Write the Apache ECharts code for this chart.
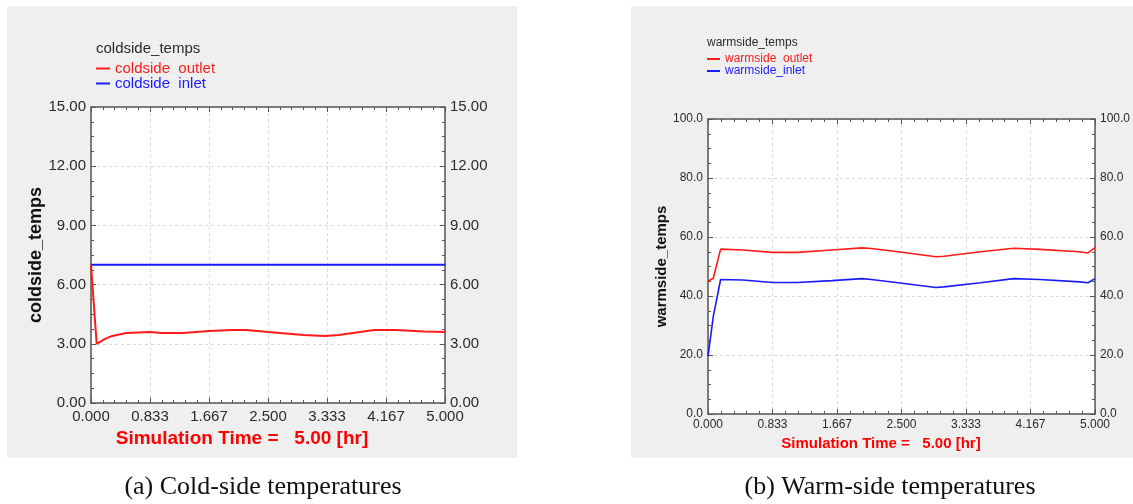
<!DOCTYPE html>
<html>
<head>
<meta charset="utf-8">
<script src="https://cdn.jsdelivr.net/npm/echarts@6/dist/echarts.min.js"></script>
<style>
  html, body { margin: 0; padding: 0; background: #ffffff; }
  #chart { width: 1133px; height: 504px; }
</style>
</head>
<body>
<div id="chart"></div>
<script>
// ---- Data ----
const coldTime   = [0, 0.08, 0.2, 0.3, 0.5, 0.833, 1.0, 1.3, 1.667, 2.0, 2.2, 2.5, 3.0, 3.3, 3.5, 4.0, 4.3, 4.7, 5.0];
const coldOutlet = [7.0, 3.0, 3.25, 3.4, 3.55, 3.6, 3.55, 3.55, 3.65, 3.7, 3.7, 3.6, 3.45, 3.4, 3.45, 3.7, 3.7, 3.62, 3.6];
const coldInlet  = [7.0, 7.0, 7.0, 7.0, 7.0, 7.0, 7.0, 7.0, 7.0, 7.0, 7.0, 7.0, 7.0, 7.0, 7.0, 7.0, 7.0, 7.0, 7.0];

const warmTime   = [0, 0.068, 0.163, 0.45, 0.835, 1.155, 1.6, 1.99, 2.11, 2.455, 2.945, 3.05, 3.52, 3.95, 4.29, 4.8, 4.91, 5.0];
const warmOutlet = [45.0, 46.0, 55.9, 55.6, 54.8, 54.8, 55.6, 56.3, 56.1, 55.0, 53.3, 53.5, 55.0, 56.2, 55.8, 55.0, 54.6, 56.4];
const warmInlet  = [19.5, 33.0, 45.6, 45.4, 44.6, 44.6, 45.2, 45.9, 45.6, 44.5, 42.9, 43.1, 44.5, 45.9, 45.6, 44.8, 44.5, 45.9];

const coldNames = ['coldside  outlet', 'coldside  inlet'];
const warmNames = ['warmside  outlet', 'warmside_inlet'];
const coldTitle = 'coldside_temps';
const warmTitle = 'warmside_temps';
const xAxisTitle = 'Simulation Time =   5.00 [hr]';
const captions = ['(a) Cold-side temperatures', '(b) Warm-side temperatures'];

const timeMin = 0, timeMax = 5, timeStep = 5 / 6;
const coldMin = 0, coldMax = 15, coldStep = 3;
const warmMin = 0, warmMax = 100, warmStep = 20;

// ---- Styling ----
const FONT = 'Liberation Sans, Arial, sans-serif';
const RED = '#ff1a1a';
const BLUE = '#1a1aff';
const AXIS = '#555555';
const TXT = '#2a2a2a';

const pair = (xs, ys) => xs.map((x, i) => [x, ys[i]]);

function xAxes(gridIndex, fs, margin, nameGap, namePadRight, nameSize) {
  const common = {
    type: 'value', gridIndex, min: timeMin, max: timeMax, interval: timeStep,
    axisLine: { show: true, onZero: false, lineStyle: { color: AXIS, width: 1.5 } },
    axisTick: { show: true, inside: true, length: 5, lineStyle: { color: AXIS } },
    minorTick: { show: true, splitNumber: 5, length: 3, lineStyle: { color: AXIS } },
  };
  return [
    Object.assign({}, common, {
      position: 'bottom',
      axisLabel: { show: true, fontSize: fs, color: TXT, fontFamily: FONT, margin,
        formatter: v => (Math.round(v * 1000) / 1000).toFixed(3) },
      splitLine: { show: true, lineStyle: { color: '#d9d9d9', type: [3, 3], width: 1 } },
      name: xAxisTitle, nameLocation: 'middle', nameGap,
      nameTextStyle: { color: '#ff0000', fontWeight: 'bold', fontSize: nameSize, fontFamily: FONT,
        padding: [0, namePadRight, 0, 0] }
    }),
    Object.assign({}, common, {
      position: 'top', axisLabel: { show: false }, splitLine: { show: false }
    })
  ];
}

function yAxes(gridIndex, min, max, step, fs, digits, nameText, nameGap, nameSize) {
  const common = {
    type: 'value', gridIndex, min, max, interval: step,
    axisLine: { show: true, onZero: false, lineStyle: { color: AXIS, width: 1.5 } },
    axisTick: { show: true, inside: true, length: 5, lineStyle: { color: AXIS } },
    minorTick: { show: true, splitNumber: 4, length: 3, lineStyle: { color: AXIS } },
    axisLabel: { show: true, fontSize: fs, color: TXT, fontFamily: FONT, margin: 5,
      formatter: v => v.toFixed(digits) }
  };
  return [
    Object.assign({}, common, {
      position: 'left',
      splitLine: { show: true, lineStyle: { color: '#d9d9d9', type: [3, 3], width: 1 } },
      name: nameText, nameLocation: 'middle', nameGap,
      nameTextStyle: { color: '#111', fontWeight: 'bold', fontSize: nameSize, fontFamily: FONT }
    }),
    Object.assign({}, common, { position: 'right', splitLine: { show: false } })
  ];
}

const chart = echarts.init(document.getElementById('chart'), null, { renderer: 'canvas' });

const option = {
  animation: false,
  backgroundColor: '#ffffff',
  graphic: {
    elements: [
      { type: 'rect', z: -100, silent: true, shape: { x: 7, y: 6, width: 510, height: 452 }, style: { fill: '#efefef' } },
      { type: 'rect', z: -100, silent: true, shape: { x: 631, y: 6, width: 502, height: 452 }, style: { fill: '#efefef' } }
    ]
  },
  title: [
    { text: coldTitle, left: 96, top: 41, padding: 0,
      textStyle: { fontSize: 15, fontWeight: 'normal', color: TXT, fontFamily: FONT } },
    { text: warmTitle, left: 707, top: 37, padding: 0,
      textStyle: { fontSize: 12, fontWeight: 'normal', color: TXT, fontFamily: FONT } },
    { text: captions[0], left: 263, top: 474, textAlign: 'center', padding: 0,
      textStyle: { fontSize: 26, fontWeight: 'normal', color: '#111', fontFamily: 'Liberation Serif, Times New Roman, serif' } },
    { text: captions[1], left: 890, top: 474, textAlign: 'center', padding: 0,
      textStyle: { fontSize: 26, fontWeight: 'normal', color: '#111', fontFamily: 'Liberation Serif, Times New Roman, serif' } }
  ],
  legend: [
    { orient: 'vertical', left: 96, top: 61, padding: 0, itemGap: 0, itemWidth: 14, itemHeight: 2, icon: 'rect',
      textStyle: { fontSize: 15, lineHeight: 14, fontFamily: FONT },
      data: [ { name: coldNames[0], textStyle: { color: RED } }, { name: coldNames[1], textStyle: { color: BLUE } } ] },
    { orient: 'vertical', left: 707, top: 53, padding: 0, itemGap: 0, itemWidth: 13, itemHeight: 2, icon: 'rect',
      textStyle: { fontSize: 12, lineHeight: 12, fontFamily: FONT },
      data: [ { name: warmNames[0], textStyle: { color: RED } }, { name: warmNames[1], textStyle: { color: BLUE } } ] }
  ],
  grid: [
    { left: 91, top: 107, width: 354, height: 296, show: true, backgroundColor: '#ffffff', borderWidth: 0 },
    { left: 708, top: 119, width: 391, height: 295, show: true, backgroundColor: '#ffffff', borderWidth: 0 }
  ],
  xAxis: [].concat(xAxes(0, 15, 6, 26, 52, 19), xAxes(1, 12, 5, 21, 41, 15)),
  yAxis: [].concat(
    yAxes(0, coldMin, coldMax, coldStep, 15, 2, coldTitle, 45, 18),
    yAxes(1, warmMin, warmMax, warmStep, 12, 1, warmTitle, 35, 15)
  ),
  series: [
    { name: coldNames[0], type: 'line', xAxisIndex: 0, yAxisIndex: 0, data: pair(coldTime, coldOutlet),
      showSymbol: false, color: RED, lineStyle: { width: 2, color: RED } },
    { name: coldNames[1], type: 'line', xAxisIndex: 0, yAxisIndex: 0, data: pair(coldTime, coldInlet),
      showSymbol: false, color: BLUE, lineStyle: { width: 2, color: BLUE } },
    { name: warmNames[0], type: 'line', xAxisIndex: 2, yAxisIndex: 2, data: pair(warmTime, warmOutlet),
      showSymbol: false, color: RED, lineStyle: { width: 1.6, color: RED } },
    { name: warmNames[1], type: 'line', xAxisIndex: 2, yAxisIndex: 2, data: pair(warmTime, warmInlet),
      showSymbol: false, color: BLUE, lineStyle: { width: 1.6, color: BLUE } }
  ]
};

chart.setOption(option);
</script>
</body>
</html>
